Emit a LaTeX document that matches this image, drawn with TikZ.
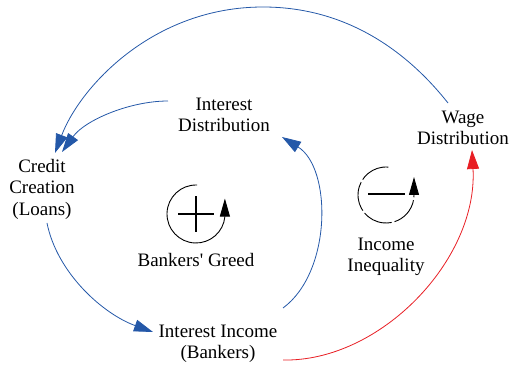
\documentclass[tikz,border=0pt]{standalone}
\usepackage{fontspec}
\setmainfont{Liberation Serif}
\usetikzlibrary{arrows.meta,calc}
\definecolor{linkblue}{RGB}{36,88,168}
\definecolor{linkred}{RGB}{232,30,36}
\tikzset{
  var/.style={align=center, font=\fontsize{19}{21.5}\selectfont, inner sep=0pt},
  link/.style={linkblue, line width=0.8pt, -{Triangle[length=19pt,width=12pt]}},
  redlink/.style={linkred, line width=0.8pt, -{Triangle[length=19pt,width=12pt]}},
  loopsym/.style={line width=0.9pt, -{Triangle[length=18pt,width=10pt]}},
  sign/.style={line width=2pt}
}
\begin{document}
\begin{tikzpicture}[x=1pt,y=1pt]
  \useasboundingbox (0,0) rectangle (511,367);
  \node[var] (credit) at (42,178) {Credit\\Creation\\(Loans)};
  \node[var] (intdist) at (224,252) {Interest\\Distribution};
  \node[var] (wage) at (463,239) {Wage\\Distribution};
  \node[var] (income) at (218,23) {Interest Income\\(Bankers)};
  \node[var] (greed) at (196,107) {Bankers\textquotesingle{} Greed};
  \node[var] (inequality) at (386,110) {Income\\Inequality};
  % links
  \draw[link] ($(wage)+(-15,25)$) .. controls (410,312) and (350,360) .. (263,360)
    .. controls (153,360) and (80,280) .. ($(credit)+(13,36)$);
  \draw[link] ($(intdist)+(-56,14)$) .. controls (130,266) and (85,247) .. ($(credit)+(20,37)$);
  \draw[link] ($(credit)+(5,-34)$) .. controls (57,94) and (103,53) .. ($(income)+(-65,12)$);
  \draw[link] ($(income)+(65,36)$) .. controls (332,95) and (332,199) .. ($(intdist)+(58,-22)$);
  \draw[redlink] ($(income)+(65,-16)$) .. controls (380,5) and (478,107) .. ($(wage)+(9,-22)$);
  % loop symbols
  \coordinate (greedloop) at (196,153);
  \draw[loopsym] ($(greedloop)+(88:29)$) arc[start angle=88, end angle=355, radius=29] -- ++(0,18);
  \draw[sign] ($(greedloop)+(-18,0)$) -- ($(greedloop)+(18,0)$);
  \draw[sign] ($(greedloop)+(0,-18)$) -- ($(greedloop)+(0,18)$);
  \coordinate (inequalityloop) at (386,172);
  \draw[loopsym, dash pattern=on 30pt off 3pt] ($(inequalityloop)+(85:28)$) arc[start angle=85, end angle=360, radius=28] -- ++(0,18);
  \draw[sign] ($(inequalityloop)+(-18,1)$) -- ($(inequalityloop)+(19,1)$);
\end{tikzpicture}
\end{document}
